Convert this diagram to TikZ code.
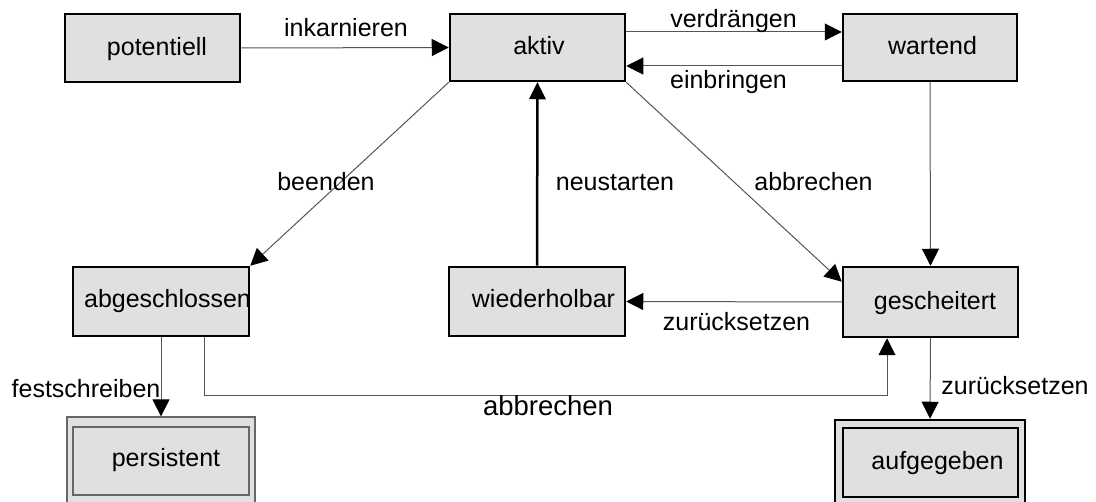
\documentclass[tikz,border=0pt]{standalone}
\usepackage{fontspec}
\setmainfont{Liberation Sans}
\usetikzlibrary{arrows.meta}
\definecolor{boxfill}{HTML}{E0E0E0}
\definecolor{linegray}{HTML}{555555}
\begin{document}
\begin{tikzpicture}[x=1pt,y=-1pt,
  font=\fontsize{25pt}{30pt}\selectfont,
  box/.style={draw=black,line width=2.5pt,fill=boxfill,minimum width=175pt,minimum height=68pt,inner sep=0pt},
  thinbox/.style={draw=black!60,line width=1.2pt,fill=boxfill,inner sep=0pt},
  txt/.style={anchor=base,inner sep=0pt},
  conn/.style={draw=linegray,line width=1pt,-{Triangle[length=17pt,width=17pt,fill=black,color=black]}},
  thickconn/.style={draw=black,line width=2.5pt,-{Triangle[length=17pt,width=17pt,fill=black,color=black,line width=0pt]}}
]
\useasboundingbox (0,0) rectangle (1096,502);
\fill[white] (0,0) rectangle (1096,502);

% boxes
\node[box,minimum height=68pt] (pot) at (152.5,48) {};
\node[box,minimum height=67pt] (akt) at (537.5,47.5) {};
\node[box,minimum width=174pt,minimum height=67pt] (war) at (930,47.5) {};
\node[box,minimum width=176pt,minimum height=69pt] (abg) at (161,301.5) {};
\node[box,minimum width=176pt,minimum height=69pt] (wie) at (537,301.5) {};
\node[box,minimum height=70pt] (ges) at (930.5,302) {};

\node[thinbox,minimum width=188pt,minimum height=86pt] (perout) at (161,460) {};
\node[thinbox,minimum width=176pt,minimum height=68pt] (perin) at (161,461) {};
\node[box,minimum width=190pt,minimum height=84pt] (aufout) at (930,462) {};
\node[box,minimum width=175pt,minimum height=69pt] (aufin) at (930.5,462.5) {};

% box texts
\node[txt] (tpot) at (157,56) {potentiell};
\node[txt] (takt) at (539,55) {aktiv};
\node[txt] (twar) at (932.5,55) {wartend};
\node[txt] (tabg) at (167.5,308) {abgeschlossen};
\node[txt] (twie) at (543.5,308) {wiederholbar};
\node[txt] (tges) at (935,310) {gescheitert};
\node[txt] (tper) at (166,467) {persistent};
\node[txt] (tauf) at (937.5,470) {aufgegeben};

% connectors
\draw[conn] (pot.east) -- (akt.west);
\draw[conn] ([yshift=15.5pt]akt.east) -- ([yshift=15.5pt]war.west);
\draw[conn] ([yshift=-18.5pt]war.west) -- ([yshift=-18.5pt]akt.east);
\draw[conn] (akt.south west) -- (abg.north east);
\draw[conn] (akt.south east) -- ([yshift=-16pt]ges.north west);
\draw[conn] (war.south) -- (ges.north);
\draw[thickconn] (wie.north) -- (akt.south);
\draw[conn] (ges.west) -- (wie.east);
\draw[conn] (abg.south) -- (perout.north);
\draw[conn] ([xshift=43pt]abg.south) -- ++(0,58) -| ([xshift=-43.5pt]ges.south);
\draw[conn] (ges.south) -- (aufout.north);

% labels
\node[txt] (linkarn) at (346,37) {inkarnieren};
\node[txt] (lverdr) at (733.5,28) {verdrängen};
\node[txt] (leinbr) at (728.5,89) {einbringen};
\node[txt] (lbeend) at (326,191) {beenden};
\node[txt] (lneust) at (615,191) {neustarten};
\node[txt] (labbr) at (813.5,191) {abbrechen};
\node[txt] (lzur) at (736.5,331) {zurücksetzen};
\node[txt] (lfest) at (86,398) {festschreiben};
\node[txt] (lzur2) at (1015,395) {zurücksetzen};
\node[txt,font=\fontsize{27.5pt}{33pt}\selectfont] (labbr2) at (548,416) {abbrechen};
\end{tikzpicture}
\end{document}
